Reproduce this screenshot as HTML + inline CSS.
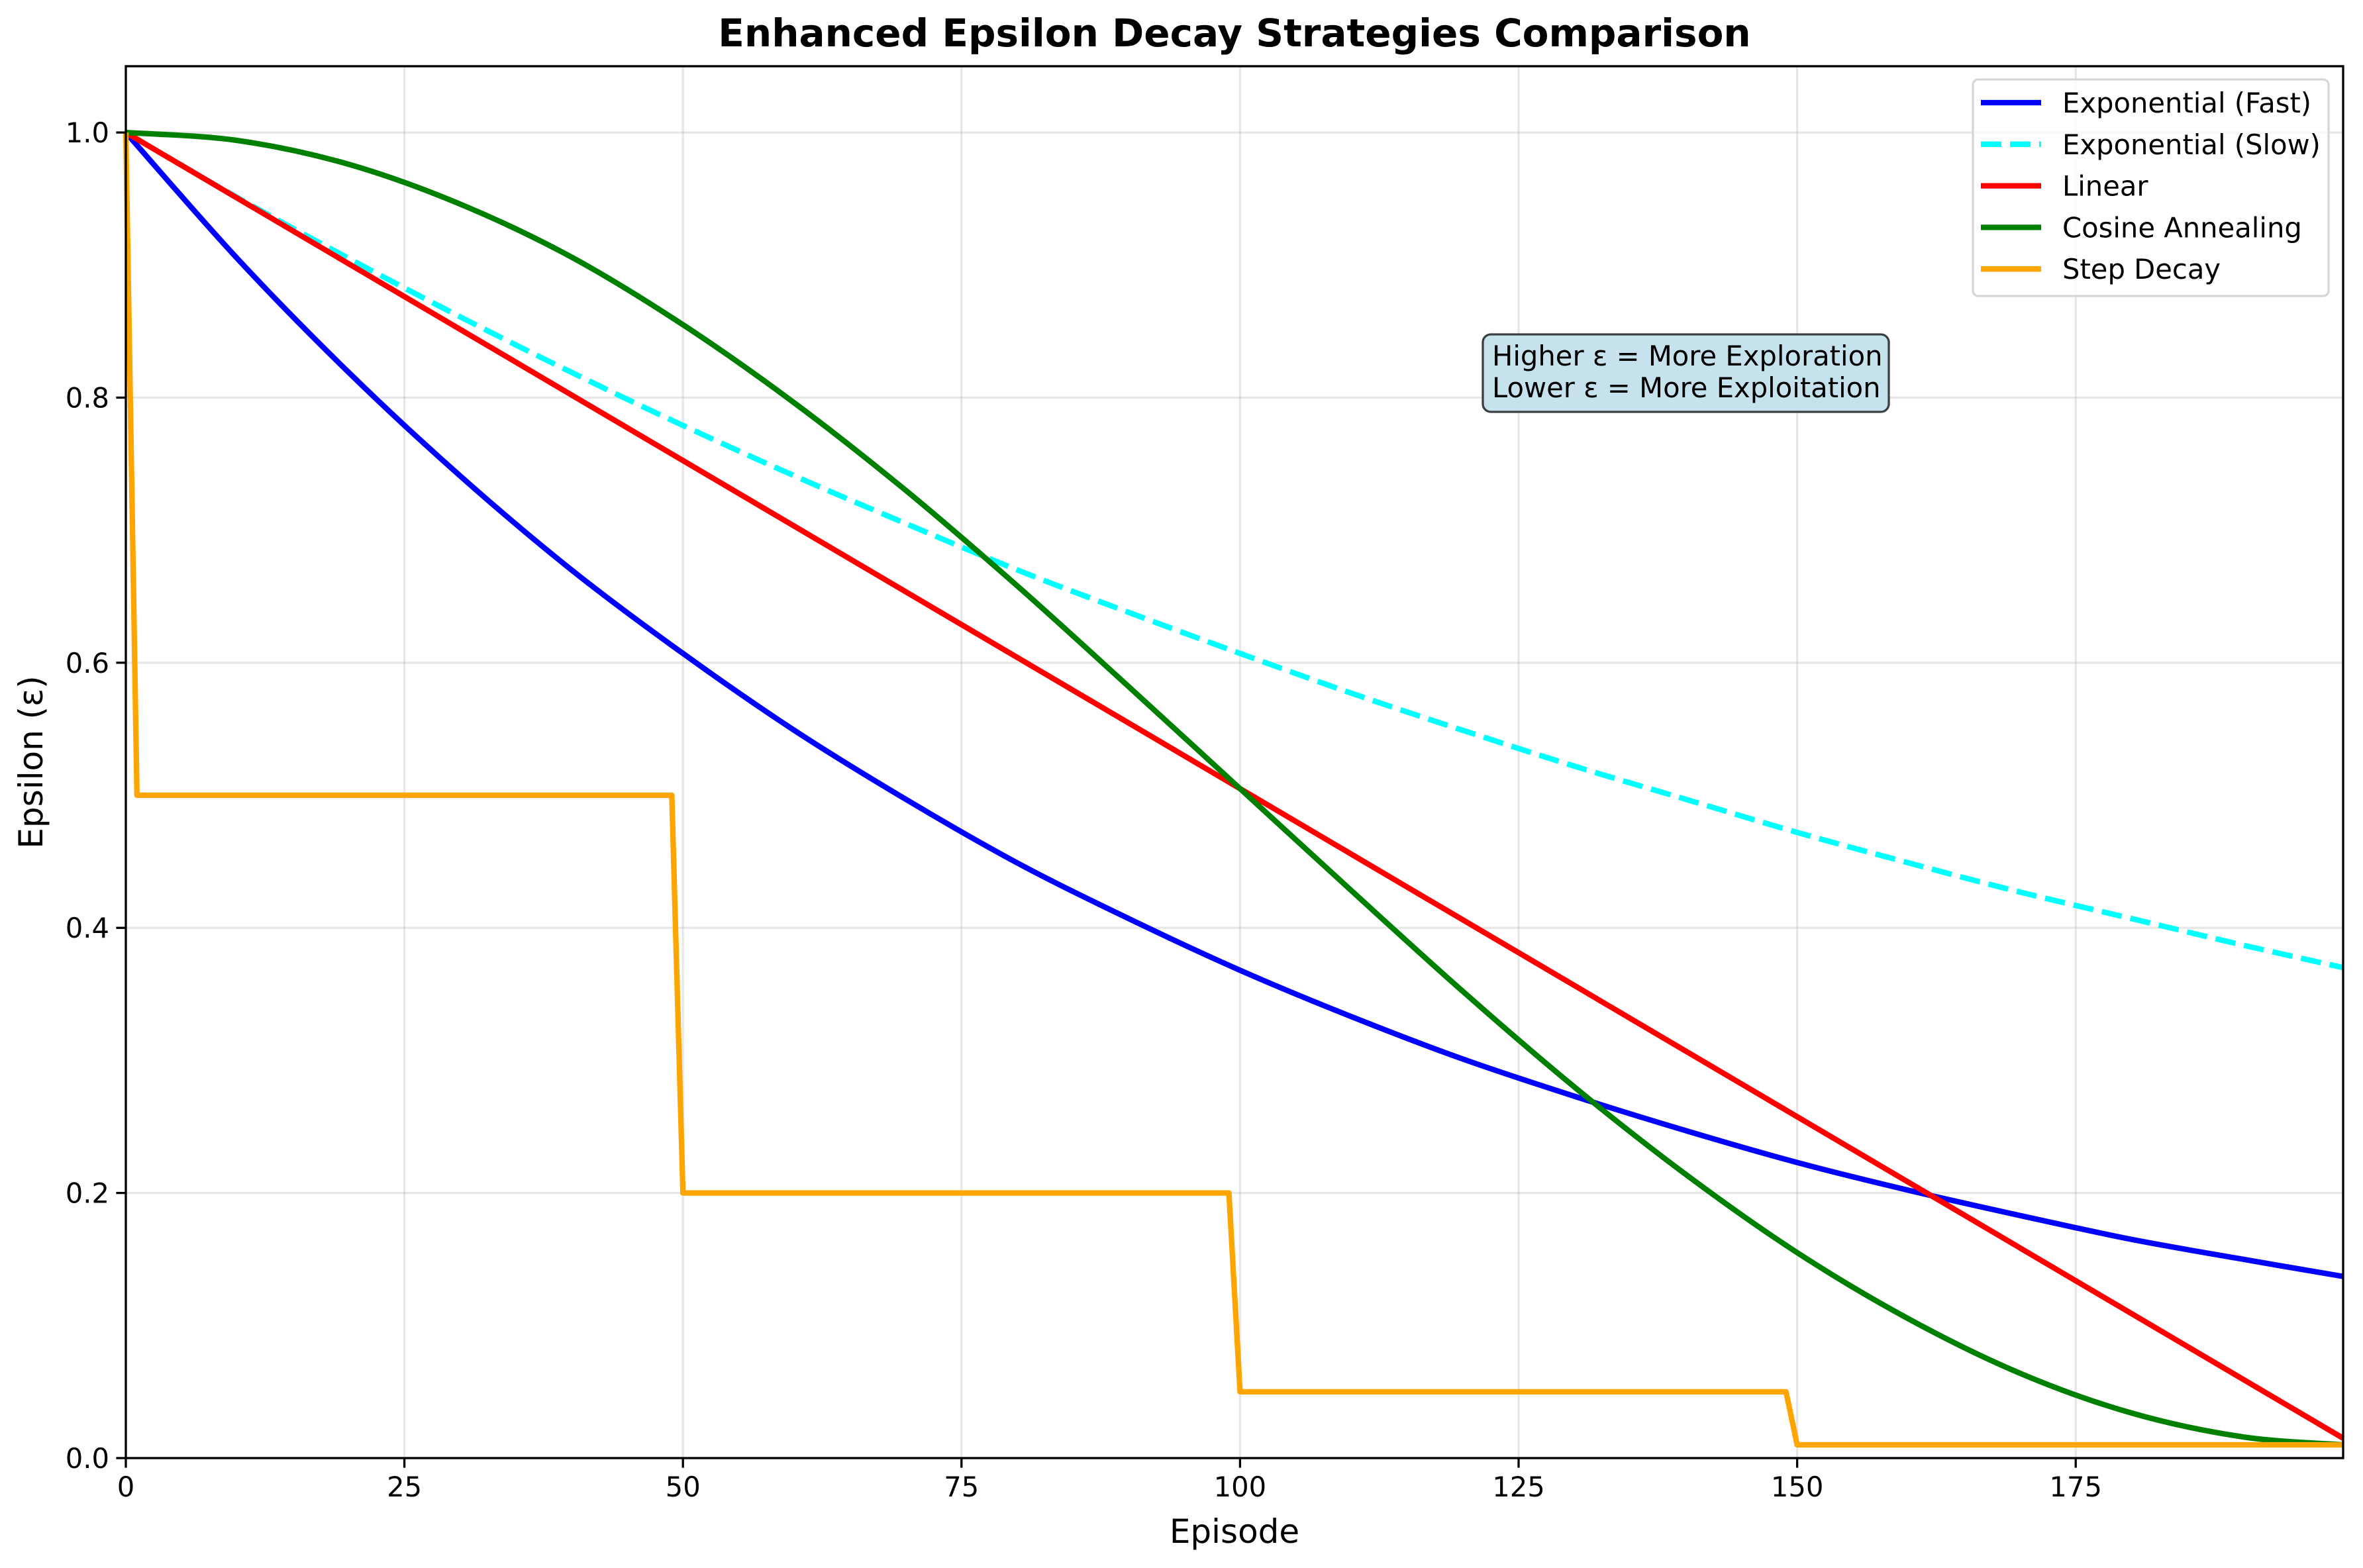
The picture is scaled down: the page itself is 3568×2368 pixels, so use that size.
<!DOCTYPE html>
<html><head><meta charset="utf-8">
<style>
html,body{margin:0;padding:0;background:#fff;}
svg{display:block;font-family:"DejaVu Sans","Liberation Sans",sans-serif;}
</style></head>
<body>
<svg id="chart" width="3568" height="2368" viewBox="0 0 3568 2368" xmlns="http://www.w3.org/2000/svg">
<rect x="0" y="0" width="3568" height="2368" fill="#fff"/>
<g id="grid"></g>
<g id="series"></g>
<rect x="190" y="100" width="3348" height="2102" fill="none" stroke="#000" stroke-width="3.3"/>
<g id="ticks"></g>
<text x="1864" y="70" text-anchor="middle" font-size="58" font-weight="bold">Enhanced Epsilon Decay Strategies Comparison</text>
<text x="1864" y="2330" text-anchor="middle" font-size="50">Episode</text>
<text x="64" y="1151" text-anchor="middle" font-size="50" transform="rotate(-90 64 1151)">Epsilon (ε)</text>
<g>
<rect x="2239" y="505" width="613" height="117" rx="12" fill="#c6e3ed" stroke="#3a3f42" stroke-width="3.3"/>
<text x="2253" y="552" font-size="41.7">Higher ε = More Exploration</text>
<text x="2253" y="600" font-size="41.7">Lower ε = More Exploitation</text>
</g>
<g id="legend">
<rect x="2979" y="120" width="537" height="327" rx="8" fill="#fff" fill-opacity="0.8" stroke="#d6d6d6" stroke-width="3.3"/>
</g>
</svg>
<script>
const xMin = 0, xMax = 199, yMin = 0, yMax = 1.05;
const xTicks = [0, 25, 50, 75, 100, 125, 150, 175];
const yTicks = [0.0, 0.2, 0.4, 0.6, 0.8, 1.0];
const yTickLabels = ["0.0", "0.2", "0.4", "0.6", "0.8", "1.0"];

const sampleEpisodes = [0,10,20,30,40,50,60,70,80,90,100,110,120,130,140,150,160,170,180,190,199];
const expFast = [1,.905,.819,.741,.670,.607,.549,.497,.449,.407,.368,.333,.301,.273,.247,.223,.202,.183,.165,.150,.137];
const expSlow = [1,.951,.905,.861,.819,.779,.741,.705,.670,.638,.607,.577,.549,.522,.497,.472,.449,.427,.407,.387,.370];
const cosine = [1,.994,.976,.946,.906,.855,.796,.730,.658,.582,.505,.428,.352,.280,.214,.155,.105,.064,.034,.016,.010];
const linearEpisodes = [0, 199];
const linearValues = [1.0, 0.015];
const stepEpisodes = [0,1,49,50,99,100,149,150,199];
const stepValues = [1,.5,.5,.2,.2,.05,.05,.01,.01];

const L = 190, R = 3538, T = 100, B = 2202;
function sx(v){ return L + (v - xMin) / (xMax - xMin) * (R - L); }
function sy(v){ return B - (v - yMin) / (yMax - yMin) * (B - T); }
const NS = "http://www.w3.org/2000/svg";
function mk(tag, attrs, parent){
  const e = document.createElementNS(NS, tag);
  for (const k in attrs) e.setAttribute(k, attrs[k]);
  parent.appendChild(e);
  return e;
}
const grid = document.getElementById('grid');
const ticks = document.getElementById('ticks');
xTicks.forEach(t => {
  const g = mk('line', {x1: sx(t), x2: sx(t), y1: T, y2: B, stroke: '#b0b0b0', 'stroke-opacity': 0.3, 'stroke-width': 3.3}, grid);
  
  
  const tk = mk('line', {x1: sx(t), x2: sx(t), y1: B, y2: B + 14.6, stroke: '#000', 'stroke-width': 3.3}, ticks);
  
  
  const lb = mk('text', {x: sx(t), y: B + 58, 'text-anchor': 'middle', 'font-size': 41.7}, ticks);
  lb.textContent = String(t);
  
  
});
yTicks.forEach((t, i) => {
  const g = mk('line', {x1: L, x2: R, y1: sy(t), y2: sy(t), stroke: '#b0b0b0', 'stroke-opacity': 0.3, 'stroke-width': 3.3}, grid);
  
  
  const tk = mk('line', {x1: L - 14.6, x2: L, y1: sy(t), y2: sy(t), stroke: '#000', 'stroke-width': 3.3}, ticks);
  
  
  const lb = mk('text', {x: L - 25, y: sy(t) + 15, 'text-anchor': 'end', 'font-size': 41.7}, ticks);
  lb.textContent = yTickLabels[i];
  
  
});
const series = document.getElementById('series');
function pathD(xs, ys, smooth){
  const P = xs.map((x, i) => [sx(x), sy(ys[i])]);
  let d = 'M' + P[0][0].toFixed(1) + ',' + P[0][1].toFixed(1);
  for (let i = 1; i < P.length; i++){
    if (!smooth){ d += ' L' + P[i][0].toFixed(1) + ',' + P[i][1].toFixed(1); continue; }
    const p0 = P[Math.max(0, i - 2)], p1 = P[i - 1], p2 = P[i], p3 = P[Math.min(P.length - 1, i + 1)];
    const c1 = [p1[0] + (p2[0] - p0[0]) / 6, p1[1] + (p2[1] - p0[1]) / 6];
    const c2 = [p2[0] - (p3[0] - p1[0]) / 6, p2[1] - (p3[1] - p1[1]) / 6];
    d += ' C' + c1[0].toFixed(1) + ',' + c1[1].toFixed(1) + ' ' + c2[0].toFixed(1) + ',' + c2[1].toFixed(1) + ' ' + p2[0].toFixed(1) + ',' + p2[1].toFixed(1);
  }
  return d;
}
function drawLine(xs, ys, color, dash, name, smooth){
  const p = mk('path', {d: pathD(xs, ys, smooth), fill: 'none', stroke: color, 'stroke-width': 8.3, 'stroke-linejoin': 'round'}, series);
  if (dash) p.setAttribute('stroke-dasharray', dash);
  
  
}
drawLine(sampleEpisodes, expFast, '#0000ff', null, 'exponential-fast-line', true);
drawLine(sampleEpisodes, expSlow, '#00ffff', '30.8 13.3', 'exponential-slow-line', true);
drawLine(linearEpisodes, linearValues, '#ff0000', null, 'linear-line', false);
drawLine(sampleEpisodes, cosine, '#008000', null, 'cosine-annealing-line', true);
drawLine(stepEpisodes, stepValues, '#ffa500', null, 'step-decay-line', false);

const legend = document.getElementById('legend');
const legendLabels = ["Exponential (Fast)", "Exponential (Slow)", "Linear", "Cosine Annealing", "Step Decay"];
const legendColors = ['#0000ff', '#00ffff', '#ff0000', '#008000', '#ffa500'];
legendLabels.forEach((lab, i) => {
  const y = 155 + i * 62.8;
  const ln = mk('line', {x1: 2991, x2: 3082, y1: y, y2: y, stroke: legendColors[i], 'stroke-width': 8.3}, legend);
  if (i === 1) ln.setAttribute('stroke-dasharray', '31 13');
  
  
  const t = mk('text', {x: 3114, y: y + 15, 'font-size': 41.7}, legend);
  t.textContent = lab;
  
  
});
</script>
</body></html>
